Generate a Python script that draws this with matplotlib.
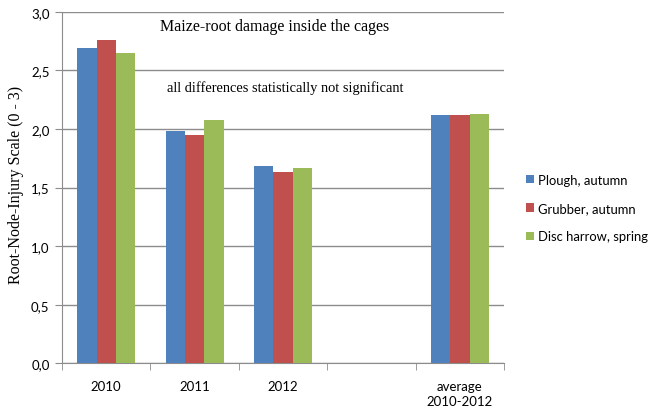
import numpy as np
import matplotlib

matplotlib.use("Agg")
import matplotlib.pyplot as plt
from matplotlib.ticker import FixedLocator, FuncFormatter

categories = ["2010", "2011", "2012", "", "average\n2010-2012"]
series = ["Plough, autumn", "Grubber, autumn", "Disc harrow, spring"]
plough = [2.69, 1.98, 1.68, np.nan, 2.12]
grubber = [2.76, 1.95, 1.63, np.nan, 2.12]
disc = [2.65, 2.08, 1.67, np.nan, 2.13]
colors = ["#4F81BD", "#C0504D", "#9BBB59"]

fig = plt.figure(figsize=(6.53, 4.10), dpi=100)
ax = fig.add_axes([0.095, 0.111, 0.677, 0.858])

x = np.arange(len(categories))
width = 0.218
for i, (name, vals) in enumerate(zip(series, [plough, grubber, disc])):
    ax.bar(x + (i - 1) * width, vals, width, color=colors[i], label=name, zorder=3)

ax.set_xlim(-0.5, len(categories) - 0.5)
ax.set_ylim(0, 3.0)
ax.set_yticks(np.arange(0, 3.01, 0.5))
ax.yaxis.set_major_formatter(FuncFormatter(lambda v, p: f"{v:.1f}".replace(".", ",")))
ax.grid(axis="y", color="#8c8c8c", linewidth=1.0, zorder=0)

ax.set_xticks(x)
ax.set_xticklabels(categories, fontsize=9.5, family="Lato", linespacing=1.25)
ax.tick_params(axis="x", which="major", length=0, pad=12)
ax.xaxis.set_minor_locator(FixedLocator(np.arange(-0.5, len(categories), 1.0)))
ax.tick_params(axis="x", which="minor", length=5, color="#8c8c8c", direction="out")
ax.tick_params(axis="y", length=5, color="#8c8c8c", labelsize=9.5, pad=4)
for lbl in ax.get_yticklabels():
    lbl.set_family("Lato")

for s in ["top", "right"]:
    ax.spines[s].set_visible(False)
for s in ["left", "bottom"]:
    ax.spines[s].set_color("#8c8c8c")

ax.set_ylabel("Root-Node-Injury Scale (0 - 3)", family="Liberation Serif", fontsize=11.5)
ax.yaxis.set_label_coords(-0.085, 0.51)

fig.text(0.42, 0.934, "Maize-root damage inside the cages", ha="center", va="center",
         family="Liberation Serif", fontsize=11.5)
fig.text(0.437, 0.785, "all differences statistically not significant", ha="center", va="center",
         family="Liberation Serif", fontsize=10.4)

fig.legend(loc="center left", bbox_to_anchor=(0.806, 0.49), frameon=False,
           prop={"family": "Lato", "size": 9.4}, handlelength=0.6, handleheight=0.6,
           handletextpad=0.3, labelspacing=1.25, borderaxespad=0, borderpad=0)

fig.savefig("out.png", dpi=100)
